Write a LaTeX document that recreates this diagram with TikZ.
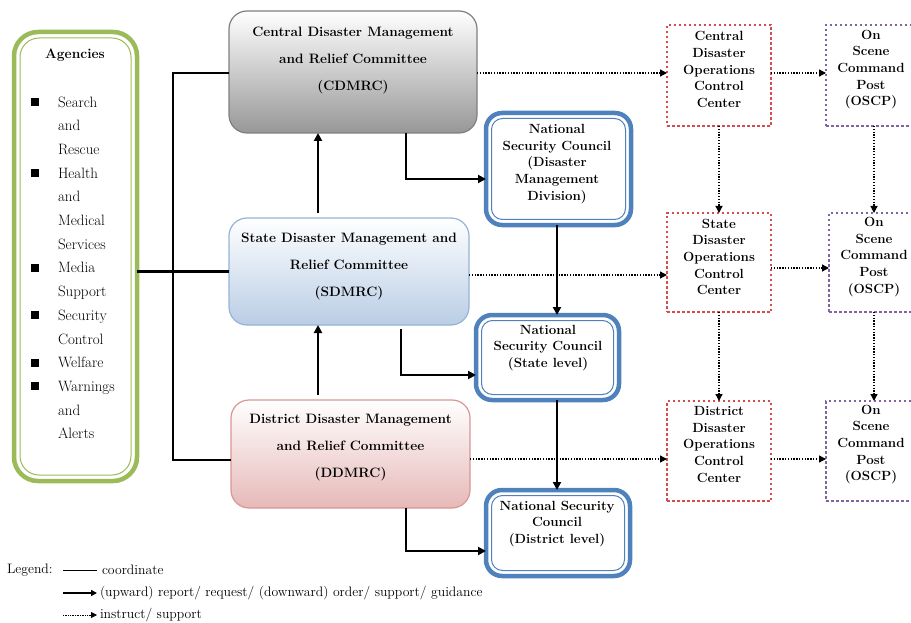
\documentclass[tikz,border=0pt]{standalone}
\usetikzlibrary{arrows.meta,calc}
\definecolor{aggreen}{HTML}{9BBB59}
\definecolor{nscblue}{HTML}{4F81BD}
\definecolor{occred}{HTML}{D64B4B}
\definecolor{oscppurple}{HTML}{8064A2}
\definecolor{cdborder}{HTML}{7F7F7F}
\definecolor{cdbottom}{HTML}{979797}
\definecolor{sdborder}{HTML}{95B3D7}
\definecolor{sdbottom}{HTML}{B9CDE5}
\definecolor{ddborder}{HTML}{D99694}
\definecolor{ddbottom}{HTML}{E6B9B8}
\newcommand{\agbullet}{\rule[1pt]{8pt}{8pt}}
\begin{document}
\begin{tikzpicture}[x=1pt,y=-1pt,
  every node/.style={inner sep=0pt, outer sep=0pt},
  committee/.style={line width=1.2pt, rounded corners=18pt},
  boxtext/.style={align=center, font=\bfseries\fontsize{13.6}{27}\selectfont},
  nscbox/.style={draw=nscblue, line width=4.5pt, rounded corners=16pt, fill=white},
  nscinner/.style={draw=nscblue, line width=1pt, rounded corners=11pt},
  smalltext/.style={align=center, font=\bfseries\fontsize{13.3}{16.6}\selectfont},
  occbox/.style={draw=occred, line width=2.5pt, dash pattern=on 2.5pt off 2.5pt},
  oscpbox/.style={draw=oscppurple, line width=2.5pt, dash pattern=on 2.5pt off 2.5pt},
  coordline/.style={line width=2.2pt},
  arr/.style={line width=2.2pt, -{Triangle[length=8pt,width=8pt]}},
  dotarr/.style={line width=1.3pt, dash pattern=on 1.3pt off 1.5pt, -{Triangle[length=7pt,width=7pt]}},
  legtext/.style={anchor=west, font=\fontsize{13.7}{15}\selectfont},
]
\useasboundingbox (0,0) rectangle (911,623);
\clip (0,0) rectangle (911,623);

% Agencies
\node[draw=aggreen, line width=4.5pt, rounded corners=24pt, minimum width=123pt, minimum height=449pt] (ag) at (75.5,256.5) {};
\draw[aggreen, line width=1pt, rounded corners=19pt] ([shift={(6pt,-6pt)}]ag.north west) rectangle ([shift={(-6pt,6pt)}]ag.south east);
\node[font=\bfseries\fontsize{13.8}{16}\selectfont] (agt) at (75,55) {Agencies};
\node[anchor=north west, font=\fontsize{15}{23.7}\selectfont] (agl) at (31,90.5) {%
\begin{tabular}{@{}p{27pt}@{}l@{}}
\agbullet & Search\\
 & and\\
 & Rescue\\
\agbullet & Health\\
 & and\\
 & Medical\\
 & Services\\
\agbullet & Media\\
 & Support\\
\agbullet & Security\\
 & Control\\
\agbullet & Welfare\\
\agbullet & Warnings\\
 & and\\
 & Alerts
\end{tabular}};

% Committees
\node[committee, draw=cdborder, top color=white, bottom color=cdbottom, minimum width=248pt, minimum height=122pt] (cd) at (353,72) {};
\node[boxtext] (cdt) at (353,60) {Central Disaster Management\\and Relief Committee\\(CDMRC)};
\node[committee, draw=sdborder, top color=white, bottom color=sdbottom, minimum width=240pt, minimum height=107pt] (sd) at (349,271.5) {};
\node[boxtext] (sdt) at (349,266) {State Disaster Management and\\Relief Committee\\(SDMRC)};
\node[committee, draw=ddborder, top color=white, bottom color=ddbottom, minimum width=239pt, minimum height=108pt] (dd) at (350.5,454) {};
\node[boxtext] (ddt) at (350.5,448) {District Disaster Management\\and Relief Committee\\(DDMRC)};

% National Security Council boxes
\node[nscbox, minimum width=145pt, minimum height=112pt] (n1) at (558.5,169) {};
\draw[nscinner] ([shift={(5.5pt,-5.5pt)}]n1.north west) rectangle ([shift={(-5.5pt,5.5pt)}]n1.south east);
\node[smalltext] (n1t) at (557,164) {National\\Security Council\\(Disaster\\Management\\Division)};
\node[nscbox, minimum width=143pt, minimum height=85pt] (n2) at (547.5,357.5) {};
\draw[nscinner] ([shift={(5.5pt,-5.5pt)}]n2.north west) rectangle ([shift={(-5.5pt,5.5pt)}]n2.south east);
\node[smalltext] (n2t) at (548,348) {National\\Security Council\\(State level)};
\node[nscbox, minimum width=144pt, minimum height=86pt] (n3) at (558,533) {};
\draw[nscinner] ([shift={(5.5pt,-5.5pt)}]n3.north west) rectangle ([shift={(-5.5pt,5.5pt)}]n3.south east);
\node[smalltext] (n3t) at (557,524) {National Security\\Council\\(District level)};

% Operations control centers
\node[occbox, minimum width=104pt, minimum height=101pt] (o1) at (719,75.5) {};
\node[smalltext] (o1t) at (719,69.5) {Central\\Disaster\\Operations\\Control\\Center};
\node[occbox, minimum width=104pt, minimum height=99pt] (o2) at (719,262.5) {};
\node[smalltext] (o2t) at (719,257) {State\\Disaster\\Operations\\Control\\Center};
\node[occbox, minimum width=104pt, minimum height=100pt] (o3) at (719,451) {};
\node[smalltext] (o3t) at (719,444.5) {District\\Disaster\\Operations\\Control\\Center};

% On scene command posts
\node[oscpbox, minimum width=100pt, minimum height=101pt] (p1) at (876,75.5) {};
\node[smalltext] (p1t) at (871,69.5) {On\\Scene\\Command\\Post\\(OSCP)};
\node[oscpbox, minimum width=100pt, minimum height=99pt] (p2) at (879,262.5) {};
\node[smalltext] (p2t) at (874,257) {On\\Scene\\Command\\Post\\(OSCP)};
\node[oscpbox, minimum width=100pt, minimum height=100pt] (p3) at (876,451) {};
\node[smalltext] (p3t) at (871,444.5) {On\\Scene\\Command\\Post\\(OSCP)};

% coordinate lines
\coordinate (bt) at (173,73);
\coordinate (bb) at (173,460);
\draw[coordline] (ag.east |- sd.west) -- (sd.west);
\draw[coordline] (cd.west |- bt) -- (bt) -- (bb) -- (dd.west |- bb);

% upward report arrows
\draw[arr, shorten <=5pt] ([xshift=-31pt]sd.north) -- ([xshift=-31pt]sd.north |- cd.south);
\draw[arr, shorten <=5pt] ([xshift=-32.5pt]dd.north) -- ([xshift=-32.5pt]dd.north |- sd.south);

% to national security council
\draw[arr] ([xshift=53pt]cd.south) |- ([yshift=-10pt]n1.west);
\draw[arr, shorten <=4pt] ([xshift=52pt]sd.south) |- ([yshift=-17.5pt]n2.west);
\draw[arr] ([xshift=55.5pt]dd.south) |- ([yshift=-18pt]n3.west);
\draw[arr] ([xshift=-1.5pt]n1.south) -- ([xshift=-1.5pt]n1.south |- n2.north);
\draw[arr] ([xshift=9.5pt]n2.south) -- ([xshift=9.5pt]n2.south |- n3.north);

% instruct / support
\draw[dotarr] ([yshift=-1pt]cd.east) -- ([yshift=-1pt]cd.east -| o1.west);
\draw[dotarr] ([yshift=-1pt]cd.east -| o1.east) -- ([yshift=-1pt]cd.east -| p1.west);
\draw[dotarr] (o1.south) -- (o2.north);
\draw[dotarr] ([xshift=-2pt]p1.south) -- ([xshift=-2pt]p1.south |- p2.north);
\draw[dotarr] ([yshift=-3.5pt]sd.east) -- ([yshift=-3.5pt]sd.east -| o2.west);
\draw[dotarr] ([yshift=-5.5pt]o2.east) -- ([yshift=-5.5pt]o2.east -| p2.west);
\draw[dotarr] (o2.south) -- (o3.north);
\draw[dotarr] ([xshift=-5pt]p2.south) -- ([xshift=-5pt]p2.south |- p3.north);
\draw[dotarr] ([yshift=-5pt]dd.east) -- ([yshift=-5pt]dd.east -| o3.west);
\draw[dotarr] ([yshift=-8pt]o3.east) -- ([yshift=-8pt]o3.east -| p3.west);

% legend
\node[legtext] (lg) at (7,570) {Legend:};
\coordinate (l1a) at (63,570); \coordinate (l1b) at (97,570);
\coordinate (l2a) at (63,593); \coordinate (l2b) at (97,593);
\coordinate (l3a) at (63,615); \coordinate (l3b) at (97,615);
\draw[line width=0.9pt] (l1a) -- (l1b);
\node[legtext] (lg1) at (102,570) {coordinate};
\draw[line width=1.4pt, -{Triangle[length=6pt,width=6pt]}] (l2a) -- (l2b);
\node[legtext] (lg2) at (100,593) {(upward) report/ request/ (downward) order/ support/ guidance};
\draw[line width=0.8pt, dash pattern=on 0.8pt off 0.9pt, -{Triangle[length=6pt,width=6pt]}] (l3a) -- (l3b);
\node[legtext] (lg3) at (100,615) {instruct/ support};
\end{tikzpicture}
\end{document}
